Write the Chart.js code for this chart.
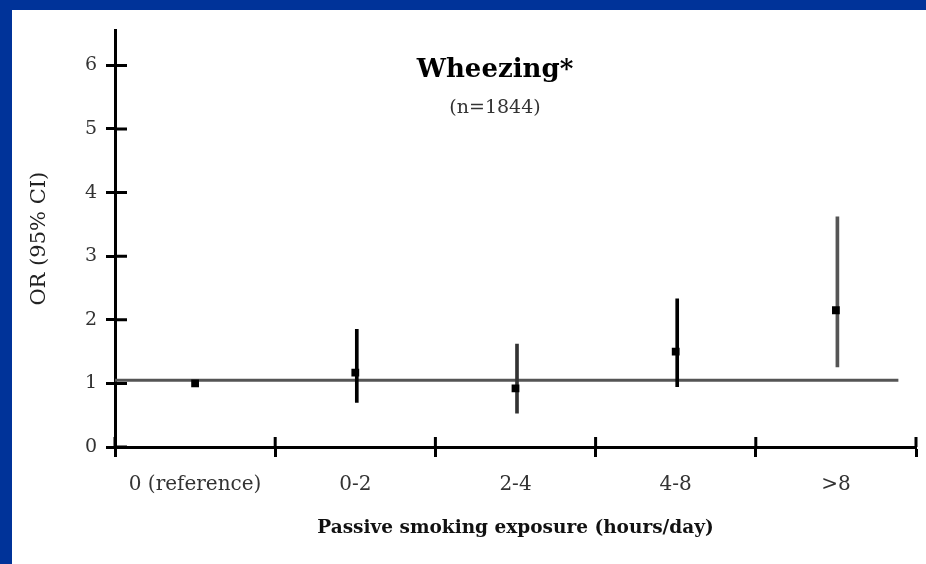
<!DOCTYPE html>
<html>
<head>
<meta charset="utf-8">
<title>Wheezing</title>
<script src="https://cdn.jsdelivr.net/npm/chart.js@4.4.1/dist/chart.umd.min.js"></script>
<style>
  html, body { margin: 0; padding: 0; }
  body { width: 926px; height: 564px; background: #003399; position: relative; overflow: hidden; }
  #panel { position: absolute; left: 12px; top: 10px; width: 914px; height: 554px; background: #fff; }
  .head { position: absolute; left: 395px; width: 200px; text-align: center; font-family: 'DejaVu Serif', serif; white-space: nowrap; }
  #title { top: 53px; font-size: 26px; font-weight: bold; line-height: 30px; color: #000; }
  #subtitle { top: 95px; font-size: 19px; line-height: 22px; color: #333; }
</style>
</head>
<body>
<div id="panel"><canvas id="chart" width="914" height="554"></canvas></div>
<div id="title" class="head">Wheezing*</div>
<div id="subtitle" class="head">(n=1844)</div>
<script>
// exposure groups and odds ratios
const categories = ['0 (reference)', '0-2', '2-4', '4-8', '>8'];
const oddsRatios = [1.0, 1.17, 0.92, 1.50, 2.15];
const ciLower = [null, 0.70, 0.53, 0.95, 1.26];
const ciUpper = [null, 1.85, 1.62, 2.33, 3.62];
const yTicks = [0, 1, 2, 3, 4, 5, 6];
const referenceLevel = 1.05;
const referenceEnd = 4.89; // in category widths, line stops before the last tick

const serif = 'DejaVu Serif';
const barColors = ['#000', '#000', '#333', '#000', '#555'];

// ticks in the picture cross the axes, chart.js only draws the outer half
const crossTicks = {
  id: 'crossTicks',
  afterDraw(chart) {
    const { ctx, scales: { x, y } } = chart;
    ctx.save();
    ctx.strokeStyle = '#000';
    ctx.lineWidth = 3;
    ctx.beginPath();
    y.ticks.forEach((t) => {
      const py = y.getPixelForValue(t.value);
      ctx.moveTo(x.left, py);
      ctx.lineTo(x.left + 12, py);
    });
    const step = (x.right - x.left) / categories.length;
    for (let i = 0; i <= categories.length; i++) {
      const px = x.left + i * step;
      ctx.moveTo(px, y.bottom);
      ctx.lineTo(px, y.bottom - 10);
    }
    ctx.stroke();
    ctx.restore();
  },
};

const ctx = document.getElementById('chart').getContext('2d');
new Chart(ctx, {
  type: 'bar',
  data: {
    labels: categories,
    datasets: [
      {
        type: 'line',
        label: 'reference',
        xAxisID: 'xr',
        data: [{ x: 0, y: referenceLevel }, { x: referenceEnd, y: referenceLevel }],
        borderColor: '#555',
        borderWidth: 3,
        pointRadius: 0,
        order: 3,
      },
      {
        type: 'bar',
        label: '95% CI',
        data: ciLower.map((lo, i) => (lo === null ? null : [lo, ciUpper[i]])),
        backgroundColor: barColors,
        barThickness: 3,
        borderWidth: 0,
        order: 2,
      },
      {
        type: 'line',
        label: 'OR',
        data: oddsRatios,
        showLine: false,
        pointStyle: 'rect',
        pointRadius: 5.5,
        pointBackgroundColor: '#000',
        pointBorderColor: '#000',
        pointBorderWidth: 0,
        order: 1,
      },
    ],
  },
  options: {
    responsive: false,
    animation: false,
    devicePixelRatio: 1,
    layout: { padding: { top: 19, right: 10, left: 0, bottom: 0 } },
    plugins: {
      legend: { display: false },
      tooltip: { enabled: false },
    },
    scales: {
      x: {
        type: 'category',
        offset: true,
        grid: {
          offset: true,
          drawOnChartArea: false,
          tickLength: 10,
          tickWidth: 3,
          tickColor: '#000',
        },
        border: { color: '#000', width: 3 },
        ticks: {
          font: { family: serif, size: 20 },
          color: '#333',
          padding: 16,
          maxRotation: 0,
          autoSkip: false,
        },
        title: {
          display: true,
          text: 'Passive smoking exposure (hours/day)',
          font: { family: serif, size: 18.5, weight: 'bold' },
          color: '#111',
          padding: { top: 0, bottom: 25 },
        },
        afterFit: (s) => { s.height = 117; },
      },
      xr: {
        type: 'linear',
        position: 'bottom',
        display: false,
        offset: false,
        min: 0,
        max: categories.length,
      },
      y: {
        type: 'linear',
        min: 0,
        max: 6.55,
        afterBuildTicks: (s) => { s.ticks = yTicks.map((v) => ({ value: v })); },
        grid: {
          drawOnChartArea: false,
          tickLength: 9,
          tickWidth: 3,
          tickColor: '#000',
        },
        border: { color: '#000', width: 3 },
        ticks: {
          font: { family: serif, size: 19 },
          color: '#333',
          padding: 9,
        },
        title: {
          display: true,
          text: 'OR (95% CI)',
          font: { family: serif, size: 21 },
          color: '#222',
          padding: { top: 15, bottom: 0 },
        },
        afterFit: (s) => { s.width = 103; },
      },
    },
  },
  plugins: [crossTicks],
});
</script>
</body>
</html>
